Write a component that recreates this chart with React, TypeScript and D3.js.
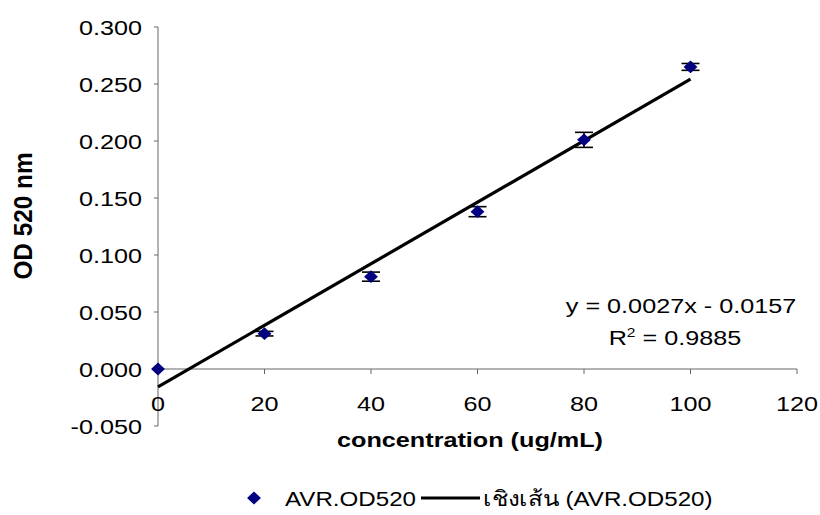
import React from "react";
import * as d3 from "d3";

const concentrations = [0, 20, 40, 60, 80, 100];
const odValues = [0.0, 0.031, 0.081, 0.138, 0.201, 0.265];
const odErrors = [0.0, 0.002, 0.004, 0.0044, 0.0066, 0.003];
const yTicks = [-0.05, 0, 0.05, 0.1, 0.15, 0.2, 0.25, 0.3];
const xTicks = [0, 20, 40, 60, 80, 100, 120];
const slope = 0.0027;
const intercept = -0.0157;

const W = 820;
const H = 515;
const FONT = "'Liberation Sans', Arial, Helvetica, sans-serif";
const SX = 1.2;
const FS = 21;

function T(props: {
  x: number;
  y: number;
  anchor?: string;
  bold?: boolean;
  sx?: number;
  children: React.ReactNode;
}) {
  return (
    <text
      transform={`translate(${props.x},${props.y}) scale(${props.sx || SX},1)`}
      textAnchor={props.anchor || "start"}
      fontSize={FS}
      fontWeight={props.bold ? "bold" : "normal"}
    >
      {props.children}
    </text>
  );
}

export default function App() {
  const x = d3.scaleLinear().domain([0, 120]).range([158, 797]);
  const y = d3.scaleLinear().domain([-0.05, 0.3]).range([426, 27]);
  const trend = d3
    .line<number>()
    .x((d) => x(d))
    .y((d) => y(slope * d + intercept));
  const diamond = d3.symbol().type(d3.symbolDiamond2).size(105)() as string;
  const axisColor = "#666";

  return (
    <svg
      width={W}
      height={H}
      style={{ position: "absolute", left: 0, top: 0, background: "#fff" }}
      fontFamily={FONT}
    >
      {/* y axis */}
      <line x1={x(0)} x2={x(0)} y1={y(0.3)} y2={y(-0.05)} stroke={axisColor} strokeWidth={1} />
      {yTicks.map((t) => (
        <g key={t}>
          <line x1={x(0) - 4} x2={x(0)} y1={y(t)} y2={y(t)} stroke={axisColor} />
          <T x={142} y={y(t) + 7.5} anchor="end">
            {d3.format(".3f")(t).replace("−", "-")}
          </T>
        </g>
      ))}
      {/* x axis */}
      <line x1={x(0)} x2={x(120)} y1={y(0)} y2={y(0)} stroke={axisColor} strokeWidth={1} />
      {xTicks.map((t) => (
        <g key={t}>
          <line x1={x(t)} x2={x(t)} y1={y(0)} y2={y(0) + 5} stroke={axisColor} />
          <T x={x(t)} y={y(0) + 42} anchor="middle">
            {t}
          </T>
        </g>
      ))}
      {/* trendline */}
      <path d={trend([0, 100]) as string} stroke="#000" strokeWidth={3.2} fill="none" />
      {/* error bars */}
      {concentrations.map((c, i) =>
        odErrors[i] > 0 ? (
          <g key={"e" + c} stroke="#000" strokeWidth={1.6}>
            <line x1={x(c)} x2={x(c)} y1={y(odValues[i] - odErrors[i])} y2={y(odValues[i] + odErrors[i])} />
            <line x1={x(c) - 9} x2={x(c) + 9} y1={y(odValues[i] - odErrors[i])} y2={y(odValues[i] - odErrors[i])} />
            <line x1={x(c) - 9} x2={x(c) + 9} y1={y(odValues[i] + odErrors[i])} y2={y(odValues[i] + odErrors[i])} />
          </g>
        ) : null
      )}
      {/* points */}
      {concentrations.map((c, i) => (
        <path key={"p" + c} d={diamond} transform={`translate(${x(c)},${y(odValues[i])}) scale(1.08,1)`} fill="#000080" />
      ))}
      {/* equation */}
      <T x={681} y={313} anchor="middle">
        y = 0.0027x - 0.0157
      </T>
      <T x={675} y={345} anchor="middle">
        R<tspan fontSize={13} dy={-8}>2</tspan>
        <tspan dy={8}> = 0.9885</tspan>
      </T>
      {/* axis titles */}
      <T x={470} y={447} anchor="middle" bold>
        concentration (ug/mL)
      </T>
      <text
        transform={`translate(32,216) rotate(-90) scale(1.16,1.2)`}
        textAnchor="middle"
        fontSize={FS}
        fontWeight="bold"
      >
        OD 520 nm
      </text>
      {/* legend */}
      <path d={diamond} transform="translate(254,498) scale(1.08,1)" fill="#000080" />
      <T x={285} y={506} sx={1.15}>AVR.OD520</T>
      <line x1={421} x2={480} y1={498} y2={498} stroke="#000" strokeWidth={3.2} />
      <T x={483} y={506} sx={1.15}>เชิงเส้น (AVR.OD520)</T>
    </svg>
  );
}
